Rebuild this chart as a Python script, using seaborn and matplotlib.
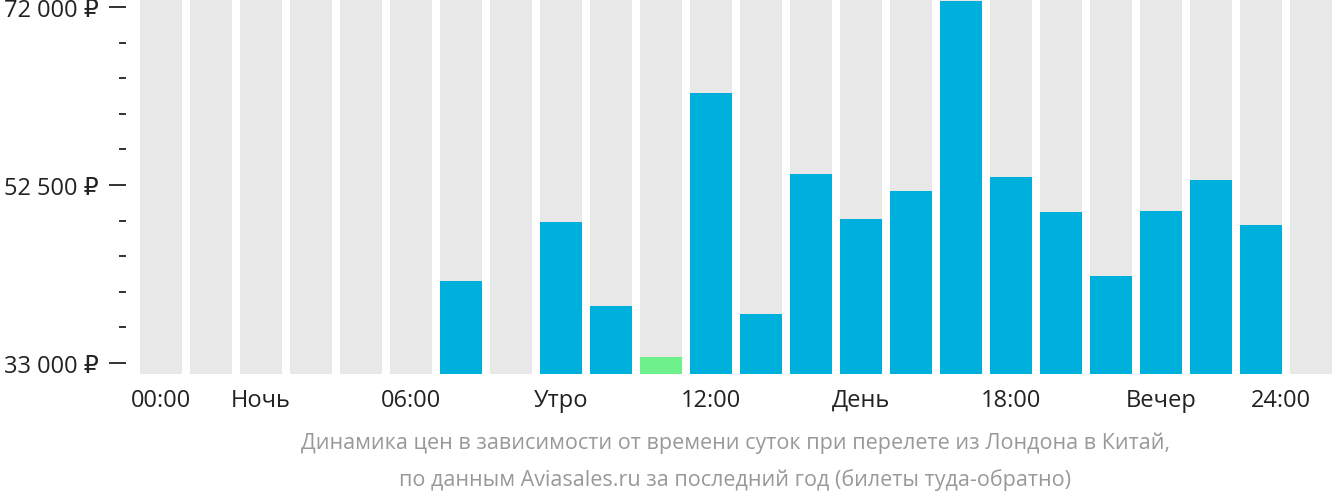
import matplotlib
matplotlib.use("Agg")
import matplotlib.pyplot as plt
import seaborn as sns
import pandas as pd
import numpy as np

slots = list(range(24))
hours = [6, 8, 9, 10, 11, 12, 13, 14, 15, 16, 17, 18, 19, 20, 21, 22]
prices = [42000, 48450, 39250, 33650, 62580, 38370, 53700, 48780, 51840,
          72660, 53380, 49540, 42530, 49650, 53050, 48120]
cheapest = 10
tick_pos = [0, 2, 5, 8, 11, 14, 17, 20, 23]
tick_labels = ["00:00", "Ночь", "06:00", "Утро", "12:00", "День", "18:00", "Вечер", "24:00"]
ymin, ymax = 31795, 72876

plt.rcParams["font.family"] = ["Open Sans", "DejaVu Sans"]
fig = plt.figure(figsize=(13.32, 5.02), dpi=100)
ax = fig.add_axes([140/1332, 127/502, 1192/1332, 375/502])

ax.bar(slots, [ymax]*24, bottom=ymin, width=0.84, color="#e8e8e8", zorder=0)
df = pd.DataFrame({"h": hours, "p": prices,
                   "c": ["min" if h == cheapest else "n" for h in hours]})
sns.barplot(data=df, x="h", y="p", hue="c", palette={"n": "#00b0dc", "min": "#6ef08a"},
            native_scale=True, width=0.84, legend=False, ax=ax, zorder=2, saturation=1)
ax.set_xlim(-0.42, 23.42)
ax.set_ylim(ymin, ymax)
ax.set_xticks(tick_pos)
ax.set_xticklabels(tick_labels)
ax.tick_params(axis="x", length=0, pad=10, labelsize=17, labelcolor="#222")
labs = ax.get_xticklabels()
labs[-1].set_horizontalalignment("right")
labs[-1].set_x(23.42)
ax.set_yticks(np.arange(33000, 72001, 3900), minor=True)
ax.set_yticks([33000, 52500, 72000])
ax.set_yticklabels(["33 000 ₽", "52 500 ₽", "72 000 ₽"])
ax.tick_params(axis="y", which="major", length=12, width=1.3, color="#222", pad=8,
               labelsize=17, labelcolor="#222")
ax.tick_params(axis="y", which="minor", length=5, width=1.3, color="#222")
ax.spines["left"].set_position(("outward", 10))
for s in ax.spines.values():
    s.set_visible(False)
ax.set_xlabel(""); ax.set_ylabel("")
fig.text(0.552, 0.118, "Динамика цен в зависимости от времени суток при перелете из Лондона в Китай,",
         ha="center", va="center", fontsize=15.5, color="#999")
fig.text(0.552, 0.044, "по данным Aviasales.ru за последний год (билеты туда-обратно)",
         ha="center", va="center", fontsize=15.5, color="#999")
fig.savefig("out.png", dpi=100)
